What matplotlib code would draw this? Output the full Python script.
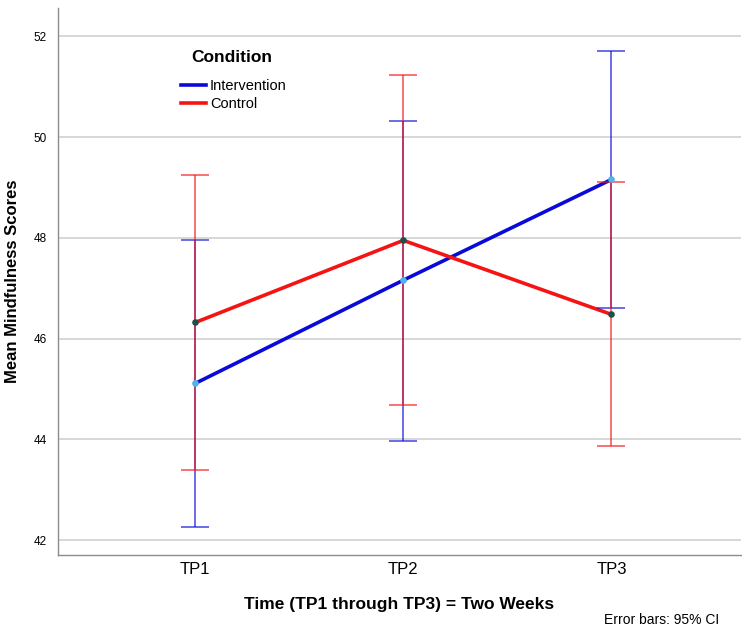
import matplotlib.pyplot as plt
import numpy as np

plt.rcParams['font.family'] = ['Liberation Sans Narrow', 'Liberation Sans', 'DejaVu Sans']

time_points = ["TP1", "TP2", "TP3"]

intervention_mean = [45.11, 47.16, 49.16]
intervention_low = [42.26, 43.96, 46.60]
intervention_high = [47.95, 50.33, 51.72]

control_mean = [46.32, 47.95, 46.48]
control_low = [43.39, 44.68, 43.87]
control_high = [49.24, 51.23, 49.10]

y_ticks = [42, 44, 46, 48, 50, 52]

fig = plt.figure(figsize=(7.42, 6.33), dpi=100)
ax = fig.add_axes([0.078, 0.123, 0.92, 0.864])

x = np.arange(len(time_points))

series = [
    ("Intervention", intervention_mean, intervention_low, intervention_high, "#0a0ad8", "#4fb4e8"),
    ("Control", control_mean, control_low, control_high, "#f41414", "#1f4f4a"),
]

for name, mean, low, high, color, mcolor in series:
    mean = np.array(mean)
    yerr = [mean - np.array(low), np.array(high) - mean]
    ax.plot(x, mean, color=color, linewidth=2.6, label=name, zorder=3)
    ax.errorbar(x, mean, yerr=yerr, fmt="none", ecolor=color, alpha=0.65,
                elinewidth=1.3, capsize=10, capthick=1.3, zorder=4)

for name, mean, low, high, color, mcolor in series:
    ax.scatter(x, mean, s=14, color=mcolor, zorder=5)

ax.set_xlim(-0.66, 2.62)
ax.set_ylim(41.70, 52.56)
ax.set_yticks(y_ticks)
ax.set_yticklabels([str(t) for t in y_ticks], fontsize=8.5)
ax.set_xticks(x)
ax.set_xticklabels(time_points, fontsize=12)
ax.tick_params(axis="both", length=0)
ax.tick_params(axis="x", pad=5)
ax.tick_params(axis="y", pad=8)

ax.grid(axis="y", color="#d4d4d4", linewidth=1.3)
ax.set_axisbelow(True)
for side in ["top", "right"]:
    ax.spines[side].set_visible(False)
for side in ["left", "bottom"]:
    ax.spines[side].set_color("#8c8c8c")
    ax.spines[side].set_linewidth(1.0)

ax.set_ylabel("Mean Mindfulness Scores", fontsize=12, fontweight="bold", labelpad=10)
ax.set_xlabel("Time (TP1 through TP3) = Two Weeks", fontsize=12.5, fontweight="bold", labelpad=14)

# legend with title placed by hand
ax.text(0.254, 0.909, "Condition", transform=ax.transAxes, ha="center", va="center",
        fontsize=12.5, fontweight="bold")
ax.legend(loc="upper left", bbox_to_anchor=(0.161, 0.895),
          frameon=False, fontsize=10.5, handlelength=1.7, handletextpad=0.3,
          labelspacing=0.3)

fig.text(0.97, 0.01, "Error bars: 95% CI", ha="right", va="bottom", fontsize=10)

plt.savefig("out.png", dpi=100)
